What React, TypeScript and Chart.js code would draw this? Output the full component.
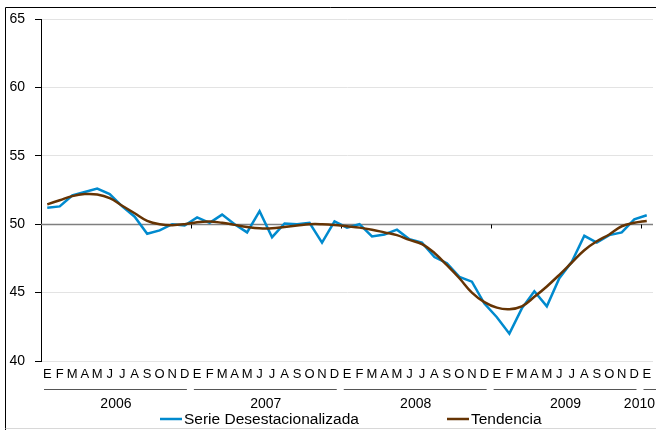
import React, { useEffect, useRef } from "react";
import { Chart, registerables } from "chart.js";

Chart.register(...registerables);

const monthLetters = ["E", "F", "M", "A", "M", "J", "J", "A", "S", "O", "N", "D"];
const categories: string[] = [
  ...monthLetters, ...monthLetters, ...monthLetters, ...monthLetters, "E",
];
const years = ["2006", "2007", "2008", "2009", "2010"];
const yearStarts = [0, 12, 24, 36, 48];
const yearCounts = [12, 12, 12, 12, 1];

const serieDesestacionalizada = [
  51.2, 51.3, 52.1, 52.35, 52.6, 52.2, 51.3, 50.55, 49.3, 49.55, 50.0, 49.9,
  50.5, 50.1, 50.7, 50.0, 49.4, 50.95, 49.05, 50.05, 50.0, 50.1, 48.65, 50.2,
  49.75, 50.0, 49.1, 49.25, 49.6, 48.9, 48.65, 47.6, 47.15, 46.15, 45.8, 44.2,
  43.2, 42.0, 43.85, 45.1, 44.0, 46.05, 47.25, 49.15, 48.65, 49.2, 49.4, 50.35,
  50.65,
];
const tendencia = [
  51.45, 51.75, 52.05, 52.2, 52.17, 51.9, 51.35, 50.8, 50.25, 50.0, 49.93, 50.0,
  50.15, 50.2, 50.1, 49.95, 49.8, 49.7, 49.7, 49.8, 49.9, 50.0, 50.0, 49.95,
  49.85, 49.75, 49.6, 49.4, 49.2, 48.85, 48.55, 47.9, 47.0, 46.05, 45.0, 44.3,
  43.9, 43.79, 44.0, 44.69, 45.45, 46.3, 47.2, 48.1, 48.75, 49.25, 49.85, 50.1,
  50.24,
];
const yTicks = [40, 45, 50, 55, 60, 65];
const legendLabels = ["Serie Desestacionalizada", "Tendencia"];

const BLUE = "rgb(0,138,206)";
const BROWN = "rgb(102,52,4)";
const FONT = "Liberation Sans, Arial, sans-serif";

const decorPlugin = {
  id: "decor",
  beforeDatasetsDraw(chart: any) {
    const { ctx, scales } = chart;
    const x = scales.x;
    const y = scales.y;
    const y50 = Math.round(y.getPixelForValue(50)) + 0.5;
    ctx.save();
    ctx.strokeStyle = "#7f7f7f";
    ctx.lineWidth = 1.5;
    ctx.beginPath();
    ctx.moveTo(chart.chartArea.left, y50);
    ctx.lineTo(chart.chartArea.right, y50);
    ctx.stroke();
    // year boundary ticks on the 50 line
    const half = (x.getPixelForValue(1) - x.getPixelForValue(0)) / 2;
    ctx.strokeStyle = "#000";
    ctx.lineWidth = 1;
    for (let k = 1; k < yearStarts.length; k++) {
      const bx = Math.round(x.getPixelForValue(yearStarts[k]) - half) + 0.5;
      ctx.beginPath();
      ctx.moveTo(bx, y50);
      ctx.lineTo(bx, y50 + 4);
      ctx.stroke();
    }
    ctx.restore();
  },
  afterDraw(chart: any) {
    const { ctx, scales } = chart;
    const x = scales.x;
    const W = chart.width;
    const half = (x.getPixelForValue(1) - x.getPixelForValue(0)) / 2;
    ctx.save();
    // month letters
    ctx.fillStyle = "#000";
    ctx.font = `13px ${FONT}`;
    ctx.textAlign = "center";
    ctx.textBaseline = "middle";
    categories.forEach((c, i) => {
      ctx.fillText(c, x.getPixelForValue(i), 374);
    });
    // year group lines and labels
    ctx.strokeStyle = "#555";
    ctx.lineWidth = 1;
    ctx.font = `14px ${FONT}`;
    years.forEach((yr, k) => {
      const s = yearStarts[k];
      const n = yearCounts[k];
      const left = x.getPixelForValue(s) - half;
      const right = x.getPixelForValue(s + n - 1) + half;
      ctx.beginPath();
      ctx.moveTo(left + 3, 389.5);
      ctx.lineTo(Math.min(right - 4, W), 389.5);
      if (k === years.length - 1) ctx.lineTo(W, 389.5);
      ctx.stroke();
      const w = ctx.measureText(yr).width;
      let cx = (left + right) / 2;
      if (cx + w / 2 > W - 1) cx = W - 1 - w / 2;
      ctx.fillText(yr, cx, 404);
    });
    // legend
    ctx.font = `15.5px ${FONT}`;
    ctx.textAlign = "left";
    ctx.lineWidth = 2.5;
    ctx.strokeStyle = BLUE;
    ctx.beginPath();
    ctx.moveTo(160, 419);
    ctx.lineTo(182, 419);
    ctx.stroke();
    ctx.fillText(legendLabels[0], 184, 420);
    ctx.strokeStyle = BROWN;
    ctx.beginPath();
    ctx.moveTo(447, 419);
    ctx.lineTo(469, 419);
    ctx.stroke();
    ctx.fillText(legendLabels[1], 471, 420);
    // outer frame
    ctx.strokeStyle = "#000";
    ctx.lineWidth = 1;
    ctx.beginPath();
    ctx.moveTo(5.5, 430);
    ctx.lineTo(5.5, 7.5);
    ctx.lineTo(W, 7.5);
    ctx.stroke();
    ctx.strokeStyle = "#d8d8d8";
    ctx.beginPath();
    ctx.moveTo(5.5, 428.5);
    ctx.lineTo(W, 428.5);
    ctx.stroke();
    ctx.restore();
  },
};

export default function App() {
  const ref = useRef<HTMLCanvasElement | null>(null);
  useEffect(() => {
    if (!ref.current) return;
    const chart = new Chart(ref.current, {
      type: "line",
      data: {
        labels: categories,
        datasets: [
          {
            label: legendLabels[0],
            data: serieDesestacionalizada,
            borderColor: BLUE,
            backgroundColor: BLUE,
            borderWidth: 2.5,
            pointRadius: 0,
            tension: 0,
            order: 2,
          },
          {
            label: legendLabels[1],
            data: tendencia,
            borderColor: BROWN,
            backgroundColor: BROWN,
            borderWidth: 2.5,
            pointRadius: 0,
            tension: 0.4,
            order: 1,
          },
        ],
      },
      options: {
        responsive: false,
        animation: false,
        devicePixelRatio: 1,
        layout: { padding: { top: 19, right: 3, bottom: 69, left: 0 } },
        plugins: { legend: { display: false }, tooltip: { enabled: false } },
        scales: {
          x: {
            type: "category",
            display: false,
            offset: true,
          },
          y: {
            min: 40,
            max: 65,
            afterFit(scale: any) {
              scale.width = 41;
            },
            afterBuildTicks(scale: any) {
              scale.ticks = yTicks.map((v) => ({ value: v }));
            },
            ticks: {
              stepSize: 5,
              color: "#000",
              font: { family: FONT, size: 14 },
              padding: 10,
            },
            grid: {
              color: (c: any) => (c.tick && c.tick.value === 50 ? "rgba(0,0,0,0)" : "#e3e3e3"),
              tickColor: "#000",
              tickLength: 6,
              lineWidth: 1,
            },
            border: { color: "#000", width: 1 },
          },
        },
      },
      plugins: [decorPlugin],
    });
    return () => chart.destroy();
  }, []);
  return (
    <div style={{ position: "absolute", left: 0, top: 0, width: 656, height: 430, background: "#fff" }}>
      <canvas ref={ref} width={656} height={430} style={{ display: "block" }} />
    </div>
  );
}
